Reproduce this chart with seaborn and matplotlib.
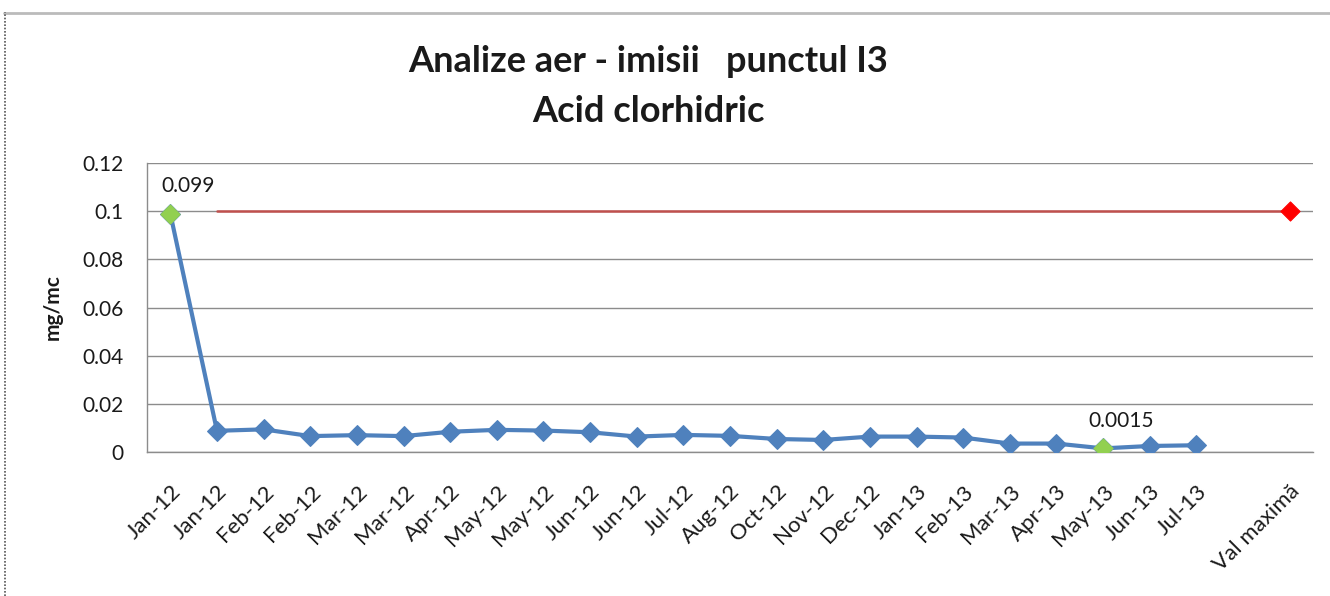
import matplotlib
matplotlib.use('Agg')
import matplotlib.pyplot as plt
import seaborn as sns
from matplotlib.lines import Line2D

# Data
labels = ['Jan-12', 'Jan-12', 'Feb-12', 'Feb-12', 'Mar-12', 'Mar-12', 'Apr-12',
          'May-12', 'May-12', 'Jun-12', 'Jun-12', 'Jul-12', 'Aug-12', 'Oct-12',
          'Nov-12', 'Dec-12', 'Jan-13', 'Feb-13', 'Mar-13', 'Apr-13', 'May-13',
          'Jun-13', 'Jul-13', '', 'Val maximă']
values = [0.099, 0.0088, 0.0094, 0.0066, 0.007, 0.0066, 0.0084,
          0.0092, 0.0089, 0.0082, 0.0064, 0.0071, 0.0067, 0.0054,
          0.005, 0.0064, 0.0064, 0.006, 0.0035, 0.0035, 0.0015,
          0.0025, 0.0028]
limit_value = 0.1
highlight_idx = [0, 20]
highlight_text = ['0.099', '0.0015']

font = ['Lato', 'DejaVu Sans']
sns.set_style('white')
plt.rcParams['font.family'] = font
txt_color = '#1a1a1a'

fig = plt.figure(figsize=(13.3, 5.96), dpi=100)
ax = fig.add_axes([147 / 1330, 1 - 452 / 596, (1313 - 147) / 1330, (452 - 163) / 596])

x = list(range(len(values)))
sns.lineplot(x=x, y=values, ax=ax, color='#4F81BD', linewidth=3,
             marker='D', markersize=10.5, markeredgecolor='#4F81BD', zorder=3)

# limit line and its marker
lim_x = list(range(1, len(labels)))
sns.lineplot(x=lim_x, y=[limit_value] * len(lim_x), ax=ax, color='#C0504D',
             linewidth=1.8, zorder=2)
sns.scatterplot(x=[len(labels) - 1], y=[limit_value], ax=ax, color='#FF0000',
                marker='D', s=95, edgecolor='#FF0000', zorder=4)

# min / max highlights
sns.scatterplot(x=highlight_idx, y=[values[i] for i in highlight_idx], ax=ax,
                color='#92D050', marker='D', s=95, edgecolor='#92D050', zorder=4)
for i, t in zip(highlight_idx, highlight_text):
    ax.annotate(t, (i, values[i]), xytext=(13, 20), textcoords='offset points',
                ha='center', va='center', fontsize=15, color=txt_color)

ax.set_xlim(-0.5, len(labels) - 0.5)
ax.set_ylim(0, 0.12)
ax.set_yticks([0, 0.02, 0.04, 0.06, 0.08, 0.1, 0.12])
ax.set_yticklabels(['0', '0.02', '0.04', '0.06', '0.08', '0.1', '0.12'],
                   fontsize=15, color=txt_color)
ax.set_xticks(range(len(labels)))
ax.set_xticklabels(labels, rotation=45, ha='right', va='top', rotation_mode='anchor',
                   fontsize=16, color=txt_color)
ax.tick_params(axis='y', length=0, pad=17)
ax.tick_params(axis='x', length=0, pad=21)
ax.yaxis.grid(True, color='#8C8C8C', linewidth=1)
ax.set_axisbelow(True)
for side in ['top', 'right']:
    ax.spines[side].set_visible(False)
for side in ['left', 'bottom']:
    ax.spines[side].set_color('#8C8C8C')
    ax.spines[side].set_linewidth(1)

ax.set_ylabel('mg/mc', fontsize=15, fontweight='bold', color=txt_color)
ax.yaxis.set_label_coords(-0.072, 0.5)
fig.text(648 / 1330, 1 - 72 / 596, 'Analize aer - imisii   punctul I3', ha='center',
         va='baseline', fontsize=26, fontweight='bold', color=txt_color)
fig.text(648 / 1330, 1 - 122 / 596, 'Acid clorhidric', ha='center',
         va='baseline', fontsize=26, fontweight='bold', color=txt_color)

# spreadsheet edges around the pasted chart
fig.add_artist(Line2D([0.003, 1], [1 - 13 / 596] * 2, color='#BBBBBB', linewidth=2,
                      transform=fig.transFigure))
fig.add_artist(Line2D([0.004] * 2, [0, 1 - 12 / 596], color='#555555', linewidth=1.2,
                      linestyle=(0, (1, 1)), transform=fig.transFigure))

fig.savefig('out.png', dpi=100)
